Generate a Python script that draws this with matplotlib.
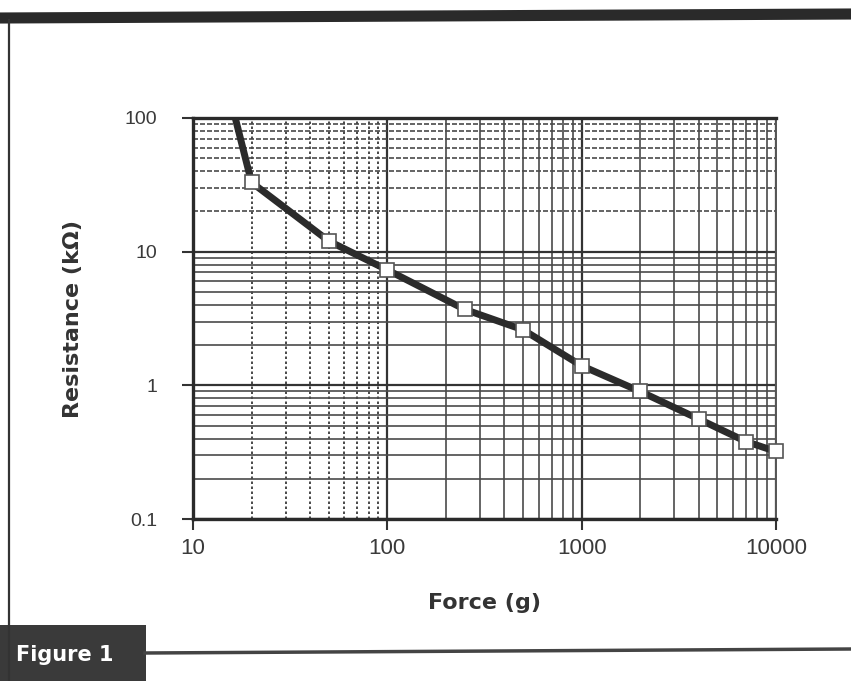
import matplotlib
matplotlib.use("Agg")
import matplotlib.pyplot as plt
from matplotlib.lines import Line2D
from matplotlib.patches import Rectangle
from matplotlib.ticker import LogLocator, FixedLocator, FixedFormatter, NullFormatter

# FSR response: force (g) vs resistance (kOhm)
force = [16.5, 20, 50, 100, 250, 500, 1000, 2000, 4000, 7000, 10000]
resistance = [100, 33, 12, 7.3, 3.7, 2.6, 1.4, 0.9, 0.56, 0.38, 0.32]

x_ticks = [10, 100, 1000, 10000]
x_tick_labels = ["10", "100", "1000", "10000"]
y_ticks = [0.1, 1, 10, 100]
y_tick_labels = ["0.1", "1", "10", "100"]

plt.rcParams["font.family"] = ["Liberation Sans", "DejaVu Sans"]

fig = plt.figure(figsize=(8.51, 6.81), dpi=100)
fig.patch.set_facecolor("white")
ax = fig.add_axes([193 / 851, 1 - 519 / 681, 583 / 851, 401 / 681])

ax.set_xscale("log")
ax.set_yscale("log")
ax.set_xlim(10, 10000)
ax.set_ylim(0.1, 100)

ax.xaxis.set_major_locator(FixedLocator(x_ticks))
ax.xaxis.set_major_formatter(FixedFormatter(x_tick_labels))
ax.yaxis.set_major_locator(FixedLocator(y_ticks))
ax.yaxis.set_major_formatter(FixedFormatter(y_tick_labels))
ax.xaxis.set_minor_locator(LogLocator(base=10, subs=range(2, 10)))
ax.yaxis.set_minor_locator(LogLocator(base=10, subs=range(2, 10)))
ax.xaxis.set_minor_formatter(NullFormatter())
ax.yaxis.set_minor_formatter(NullFormatter())

# grid
ax.grid(which="major", color="#333333", lw=1.6)
ax.grid(which="minor", color="#4a4a4a", lw=1.2)
ax.set_axisbelow(True)
fig.canvas.draw()
for tick in ax.xaxis.get_minor_ticks():
    if tick.get_loc() < 100:
        tick.gridline.set_linestyle((0, (1.5, 1.5)))
        tick.gridline.set_color("#2a2a2a")
for tick in ax.yaxis.get_minor_ticks():
    if tick.get_loc() > 10:
        tick.gridline.set_linestyle((0, (3, 1.2)))

ax.tick_params(which="major", direction="out", length=8, width=1.5, color="#333333",
               labelcolor="#3a3a3a")
ax.tick_params(which="minor", length=0)
ax.tick_params(axis="x", pad=6, labelsize=16)
ax.tick_params(axis="y", pad=18, labelsize=14)

for side in ["bottom", "top", "left"]:
    ax.spines[side].set_color("#2a2a2a")
    ax.spines[side].set_linewidth(2.4)
ax.spines["right"].set_color("#555555")
ax.spines["right"].set_linewidth(1.4)

ax.plot(force, resistance, color="#2b2b2b", lw=5, solid_capstyle="butt",
        marker="s", markersize=10, markerfacecolor="white", markeredgecolor="#555555",
        markeredgewidth=1.2, markevery=slice(1, None), clip_on=False, zorder=5)

ax.set_xlabel("Force (g)", fontsize=16, fontweight="bold", color="#333333",
              family=["DejaVu Sans"], labelpad=24)
ax.set_ylabel("Resistance (kΩ)", fontsize=16, fontweight="bold", color="#333333",
              family=["DejaVu Sans"], labelpad=30)

# page frame
fig.add_artist(Line2D([0, 1], [1 - 18 / 681, 1 - 14 / 681], color="#2a2a2a", lw=8,
                      transform=fig.transFigure))
fig.add_artist(Line2D([9 / 851, 9 / 851], [1 - 20 / 681, 0], color="#333333", lw=1.6,
                      transform=fig.transFigure))
fig.add_artist(Line2D([145 / 851, 1], [1 - 653 / 681, 1 - 649 / 681], color="#444444", lw=2.5,
                      transform=fig.transFigure))
fig.add_artist(Rectangle((0, 0), 146 / 851, 56 / 681, facecolor="#3a3a3a",
                         edgecolor="none", transform=fig.transFigure))
fig.text(16 / 851, 1 - 655 / 681, "Figure 1", color="white", fontsize=15,
         fontweight="bold", family=["DejaVu Sans"], va="center", ha="left")

fig.savefig("out.png", dpi=100, facecolor="white")
